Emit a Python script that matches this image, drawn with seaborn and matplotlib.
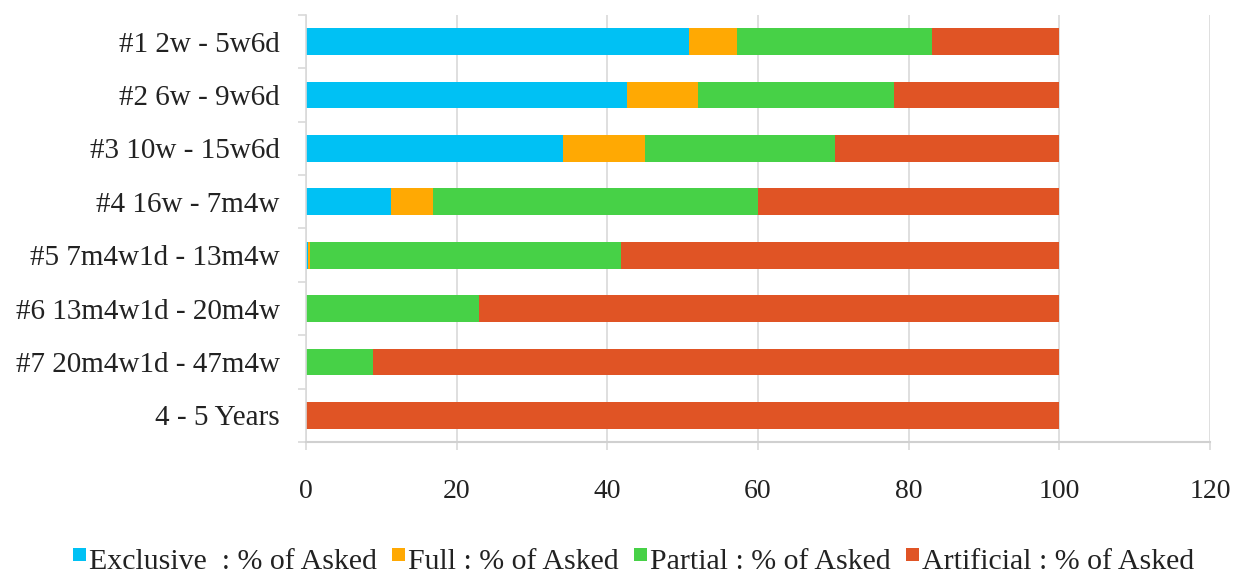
import numpy as np
import matplotlib
matplotlib.use("Agg")
import matplotlib.pyplot as plt
from matplotlib.patches import Patch, Rectangle
from matplotlib.legend_handler import HandlerPatch
from matplotlib.ticker import FixedLocator
import seaborn as sns

categories = [
    "#1 2w - 5w6d",
    "#2 6w - 9w6d",
    "#3 10w - 15w6d",
    "#4 16w - 7m4w",
    "#5 7m4w1d - 13m4w",
    "#6 13m4w1d - 20m4w",
    "#7 20m4w1d - 47m4w",
    "4 - 5 Years",
]
exclusive = [50.8, 42.6, 34.1, 11.3, 0.2, 0.0, 0.0, 0.0]
full = [6.4, 9.5, 10.9, 5.5, 0.3, 0.0, 0.0, 0.0]
partial = [25.9, 25.9, 25.2, 43.2, 41.3, 23.0, 8.9, 0.0]
artificial = [16.9, 22.0, 29.8, 40.0, 58.2, 77.0, 91.1, 100.0]

series_names = [
    "Exclusive  : % of Asked",
    "Full : % of Asked",
    "Partial : % of Asked",
    "Artificial : % of Asked",
]
colors = ["#00C1F4", "#FFA903", "#47D147", "#E05425"]
x_ticks = [0, 20, 40, 60, 80, 100, 120]


class RaisedSquare(HandlerPatch):
    """Small square legend key sitting high against the text."""

    def create_artists(self, legend, orig_handle, xdescent, ydescent,
                       width, height, fontsize, trans):
        side = width
        rect = Rectangle((-xdescent, -ydescent + height - side * 0.95), side, side,
                         facecolor=orig_handle.get_facecolor(), edgecolor="none",
                         transform=trans)
        return [rect]


sns.set_theme(style="white")
plt.rcParams["font.family"] = ["Liberation Serif", "DejaVu Serif"]

fig = plt.figure(figsize=(12.42, 5.78), dpi=100)
ax = fig.add_axes([0.2464, 0.2353, 0.7278, 0.7388])

layers = [exclusive, full, partial, artificial]
cum = np.cumsum(np.array(layers), axis=0)

# stacked segments: draw the longest cumulative total first
for i in range(len(layers) - 1, -1, -1):
    sns.barplot(x=cum[i], y=categories, color=colors[i], orient="h",
                width=0.5, saturation=1, ax=ax, linewidth=0)

ax.set_xlim(0, 120)
ax.set_ylim(7.5, -0.5)
ax.set_xticks(x_ticks)
ax.set_xticklabels([str(t) for t in x_ticks])
ax.xaxis.grid(True, color="#D9D9D9", linewidth=1.2)
ax.set_axisbelow(True)
ax.set_xlabel("")
ax.set_ylabel("")

for side in ["top", "right"]:
    ax.spines[side].set_visible(False)
ax.spines["left"].set_color("#D9D9D9")
ax.spines["bottom"].set_color("#D0D0D0")
ax.spines["left"].set_linewidth(1.2)
ax.spines["bottom"].set_linewidth(1.5)

ax.yaxis.set_minor_locator(FixedLocator(np.arange(-0.5, 8.0, 1.0)))
ax.tick_params(axis="y", which="major", length=0, pad=19, labelsize=21, labelcolor="#222222")
ax.tick_params(axis="y", which="minor", length=6, width=1.2, color="#D9D9D9", direction="out", left=True)
ax.tick_params(axis="x", which="major", length=6, width=1.2, color="#D9D9D9", direction="out",
               bottom=True, pad=21, labelsize=20, labelcolor="#222222")

handles = [Patch(facecolor=c, edgecolor="none") for c in colors]
fig.legend(handles, series_names, loc="lower center", bbox_to_anchor=(0.51, -0.042),
           ncol=4, frameon=False, fontsize=21.5, handlelength=0.45, handleheight=0.72,
           handletextpad=0.1, columnspacing=0.5, labelcolor="#222222",
           handler_map={Patch: RaisedSquare()})

fig.savefig("out.png", dpi=100)
